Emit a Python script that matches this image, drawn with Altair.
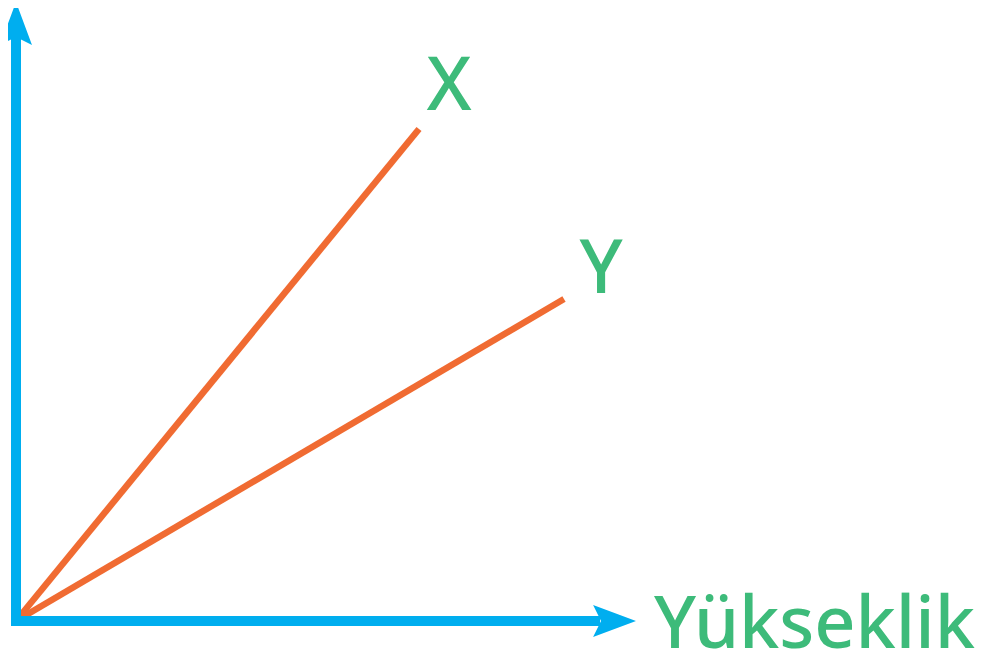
import altair as alt
import pandas as pd

# Lines (from origin to end point), abstract units
line_names = ["X", "Y"]
line_end_x = [40.3, 54.8]
line_end_y = [49.2, 32.2]

# Labels
label_texts = ["X", "Y"]
label_x = [43.3, 58.5]
label_y = [51.1, 32.8]

axis_title = "Yükseklik"
axis_title_x = 63.8
axis_title_y = -2.7

ORANGE = "#F06B32"
BLUE = "#00AEEF"
GREEN = "#3DBB7A"

XDOM = [-0.8, 96.8]
YDOM = [-3.4, 61.3]

xs = alt.Scale(domain=XDOM, nice=False, zero=False)
ys = alt.Scale(domain=YDOM, nice=False, zero=False)

rows = []
for n, ex, ey in zip(line_names, line_end_x, line_end_y):
    rows.append({"name": n, "x": 0.0, "y": 0.0, "o": 0})
    rows.append({"name": n, "x": ex, "y": ey, "o": 1})
lines_df = pd.DataFrame(rows)

lines = alt.Chart(lines_df).mark_line(color=ORANGE, strokeWidth=6.5, strokeCap="butt", clip=False).encode(
    x=alt.X("x:Q", scale=xs, axis=None),
    y=alt.Y("y:Q", scale=ys, axis=None),
    detail="name:N",
    order="o:Q",
)

# axes (drawn as rules)
axes_df = pd.DataFrame({
    "x": [-0.5, 0.0],
    "x2": [58.4, 0.0],
    "y": [0.0, -0.5],
    "y2": [0.0, 58.4],
})
axes_rules = alt.Chart(axes_df).mark_rule(color=BLUE, strokeWidth=10, strokeCap="butt").encode(
    x=alt.X("x:Q", scale=xs, axis=None),
    x2="x2:Q",
    y=alt.Y("y:Q", scale=ys, axis=None),
    y2="y2:Q",
)

arrow_path = "M0,-1 L0.727,0.95 L0,0.59 L-0.727,0.95 Z"
arrows_df = pd.DataFrame({"x": [0.0, 59.8], "y": [59.7, 0.0], "angle": [0, 90]})
arrows = alt.Chart(arrows_df).mark_point(
    shape=arrow_path, filled=True, color=BLUE, size=1936, opacity=1, strokeWidth=0
).encode(
    x=alt.X("x:Q", scale=xs, axis=None),
    y=alt.Y("y:Q", scale=ys, axis=None),
    angle=alt.Angle("angle:Q", scale=None),
)

labels_df = pd.DataFrame({"t": label_texts, "x": label_x, "y": label_y})
labels = alt.Chart(labels_df).mark_text(
    color=GREEN, font="Noto Sans", fontSize=74, fontWeight=500, align="center", baseline="alphabetic"
).encode(
    x=alt.X("x:Q", scale=xs, axis=None),
    y=alt.Y("y:Q", scale=ys, axis=None),
    text="t:N",
)

title_df = pd.DataFrame({"t": [axis_title], "x": [axis_title_x], "y": [axis_title_y]})
title = alt.Chart(title_df).mark_text(
    color=GREEN, font="Noto Sans", fontSize=72, fontWeight=500, align="left", baseline="alphabetic"
).encode(
    x=alt.X("x:Q", scale=xs, axis=None),
    y=alt.Y("y:Q", scale=ys, axis=None),
    text="t:N",
)

chart = alt.layer(lines, axes_rules, arrows, labels, title).properties(
    width=976, height=647, background="white", padding=0,
    autosize=alt.AutoSizeParams(type="none"),
).configure_view(stroke=None)

chart.save("out.html", embed_options={"renderer": "svg", "actions": False})
